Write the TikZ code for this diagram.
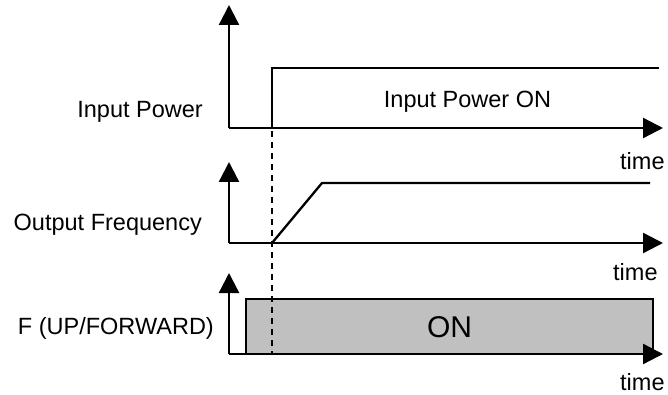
\documentclass[tikz,border=0pt]{standalone}
\usepackage{fontspec}
\setmainfont{Liberation Sans}
\usetikzlibrary{arrows.meta}
\definecolor{boxgray}{HTML}{C0C0C0}
\tikzset{
  axis/.style={line width=2.3pt,-{Triangle[length=20pt,width=20pt]}},
  sig/.style={line width=2.3pt},
  lbl/.style={inner sep=0pt,font=\fontsize{23.5}{28}\selectfont},
  biglbl/.style={inner sep=0pt,font=\fontsize{30}{36}\selectfont},
  guide/.style={line width=2.3pt,dash pattern=on 6pt off 5pt}
}
\begin{document}
\begin{tikzpicture}[x=1pt,y=-1pt]
\useasboundingbox (0,0) rectangle (668,395);
% coordinates
\coordinate (o1) at (229,128);
\coordinate (y1) at (229,5);
\coordinate (x1) at (663,128);
\coordinate (o2) at (229,243);
\coordinate (y2) at (229,162);
\coordinate (x2) at (663,243);
\coordinate (o3) at (229,354);
\coordinate (y3) at (229,273);
\coordinate (x3) at (663,354);
\coordinate (s0) at (272,128);
\coordinate (s1) at (272,68);
\coordinate (s2) at (659,68);
\coordinate (r0) at (272,243);
\coordinate (r1) at (322,183);
\coordinate (r2) at (650,183);
\coordinate (b0) at (246,299);
\coordinate (b1) at (653,354);
\coordinate (d0) at (272,131);
\coordinate (d1) at (272,354);
% box
\draw[sig,fill=boxgray] (b0) rectangle (b1);
% dashed guide
\draw[guide] (d0) -- (d1);
% signals
\draw[sig] (s0) -- (s1) -- (s2);
\draw[sig] (r0) -- (r1) -- (r2);
% axes
\draw[axis] (o1) -- (y1);
\draw[axis] (o1) -- (x1);
\draw[axis] (o2) -- (y2);
\draw[axis] (o2) -- (x2);
\draw[axis] (o3) -- (y3);
\draw[axis] (o3) -- (x3);
% labels
\node[lbl,anchor=base east] (l1) at (203,118) {Input Power};
\node[lbl,anchor=base east] (l2) at (202,230) {Output Frequency};
\node[lbl,anchor=base east] (l3) at (214,334) {F (UP/FORWARD)};
\node[lbl,anchor=base] (l4) at (467.5,108) {Input Power ON};
\node[biglbl,anchor=base] (l5) at (449.5,337) {ON};
\node[lbl,anchor=base west] (t1) at (620,170) {time};
\node[lbl,anchor=base west] (t2) at (613,280) {time};
\node[lbl,anchor=base west] (t3) at (620,390) {time};
\end{tikzpicture}
\end{document}
